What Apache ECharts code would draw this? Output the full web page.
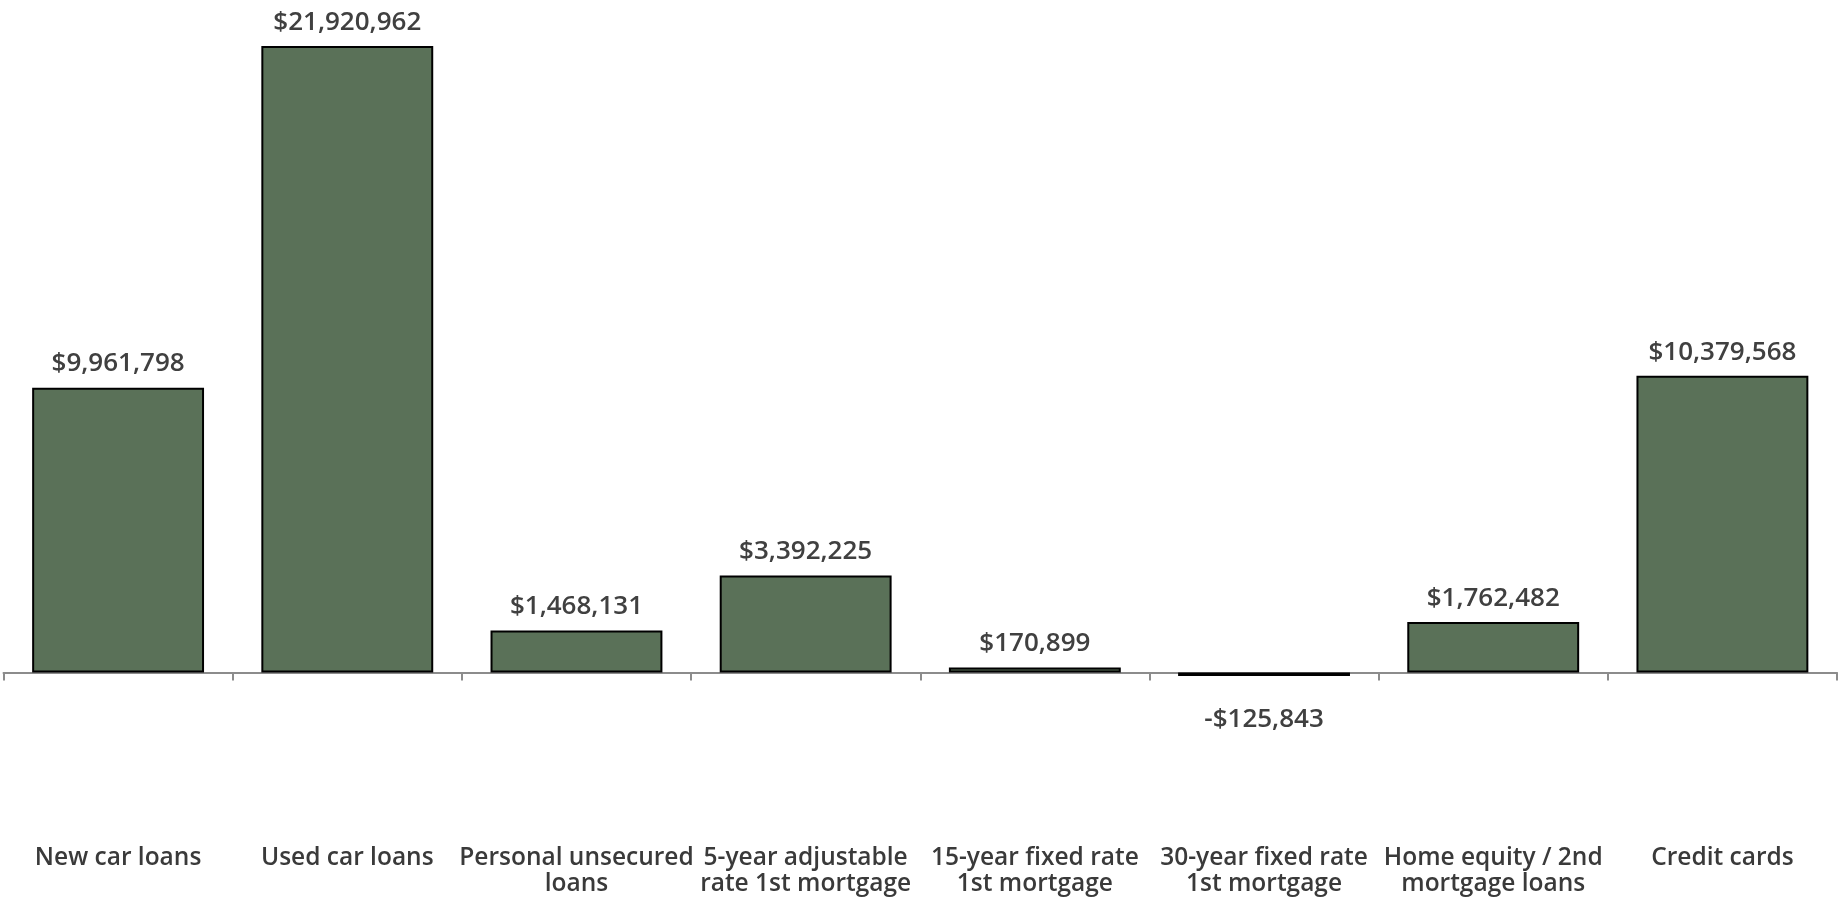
<!DOCTYPE html>
<html><head><meta charset="utf-8">
<script src="https://cdn.jsdelivr.net/npm/echarts@6/dist/echarts.min.js"></script>
<style>html,body{margin:0;padding:0;background:#fff}#c{width:1839px;height:899px}</style>
</head><body><div id="c"></div>
<script>
const categories = ["New car loans","Used car loans","Personal unsecured\nloans","5-year adjustable\nrate 1st mortgage","15-year fixed rate\n1st mortgage","30-year fixed rate\n1st mortgage","Home equity / 2nd\nmortgage loans","Credit cards"];
const values = [9961798, 21920962, 1468131, 3392225, 170899, -125843, 1762482, 10379568];

function fmt(v){
  const s = Math.abs(v).toLocaleString('en-US');
  return (v < 0 ? '-$' : '$') + s;
}

const chart = echarts.init(document.getElementById('c'), null, {renderer:'canvas'});
chart.setOption({
  animation:false,
  grid:{left:3.5, right:2, top:43.7, height:800.2, containLabel:false, outerBoundsMode:'none'},
  xAxis:[{
    type:'category', data:categories,
    axisLine:{onZero:true, lineStyle:{color:'#8c8c8c', width:2}},
    axisTick:{show:true, length:8, lineStyle:{color:'#8c8c8c', width:2}},
    axisLabel:{show:false}
  },{
    type:'category', data:categories, position:'bottom',
    axisLine:{show:false, onZero:false}, axisTick:{show:false},
    axisLabel:{margin:0.5, color:'#3a3a3a', fontFamily:'Open Sans', fontWeight:600, fontSize:24.5, lineHeight:26.5, interval:0}
  }],
  yAxis:{type:'value', min:-6000000, max:22000000, show:false, splitLine:{show:false}},
  series:[{
    type:'bar', barCategoryGap:'25%', xAxisIndex:0,
    data: values.map(v => v < 0 ? {value:v, label:{position:'bottom', distance:30.5}} : v),
    itemStyle:{color:'#5a7158', borderColor:'#000', borderWidth:2},
    label:{show:true, position:'top', distance:10.7, formatter:p => fmt(p.value),
      color:'#404040', fontFamily:'Open Sans', fontWeight:600, fontSize:26}
  }]
});
</script></body></html>
